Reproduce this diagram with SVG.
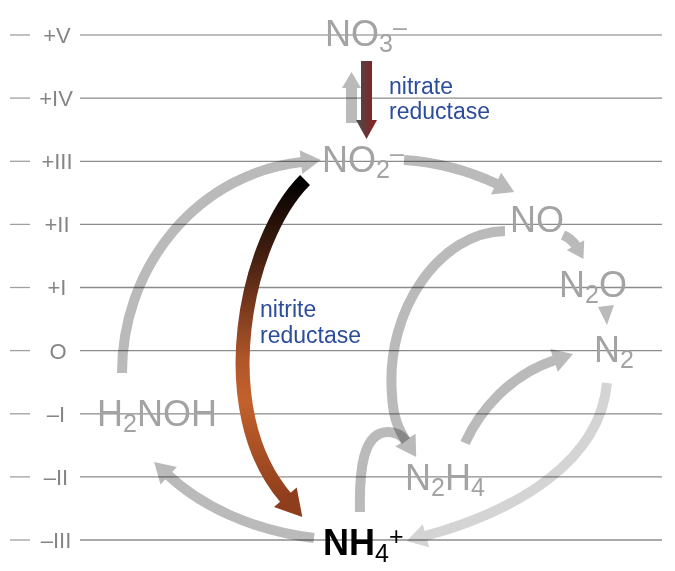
<svg xmlns="http://www.w3.org/2000/svg" width="675" height="571" viewBox="0 0 675 571">
<style>
.grid{stroke:#8c8c8c;stroke-width:1.3}
.tick{stroke:#a0a0a0;stroke-width:1.3}
.lvl{font-family:"Liberation Sans",Arial,sans-serif;font-size:22px;fill:#858585;text-anchor:middle}
.sp{font-family:"Liberation Sans",Arial,sans-serif;font-size:36px;fill:#a3a3a3}
.sub{font-size:25px}
.enz{font-family:"Liberation Sans",Arial,sans-serif;font-size:23px;fill:#2c4c9c}
.g{fill:none;stroke:#bababa;stroke-width:10;mix-blend-mode:multiply}
.gl{stroke:#d4d4d4}
</style>
<defs>
<linearGradient id="nit" gradientUnits="userSpaceOnUse" x1="0" y1="180" x2="0" y2="505">
<stop offset="0" stop-color="#000"/>
<stop offset="0.25" stop-color="#4a2212"/>
<stop offset="0.55" stop-color="#b0552a"/>
<stop offset="0.68" stop-color="#c2612c"/>
<stop offset="1" stop-color="#8c3c1b"/>
</linearGradient>
<linearGradient id="nat" x1="0" y1="0" x2="1" y2="0">
<stop offset="0" stop-color="#4a4a4a"/>
<stop offset="1" stop-color="#8e1d1d"/>
</linearGradient>
<marker id="ah" markerUnits="userSpaceOnUse" markerWidth="22" markerHeight="24" refX="1" refY="12" orient="auto" overflow="visible"><path d="M0,0 L20,12 L0,24 Z" fill="#bababa"/></marker>
<marker id="ahl" markerUnits="userSpaceOnUse" markerWidth="22" markerHeight="24" refX="1" refY="12" orient="auto" overflow="visible"><path d="M0,0 L20,12 L0,24 Z" fill="#d4d4d4"/></marker>
<marker id="ahs" markerUnits="userSpaceOnUse" markerWidth="18" markerHeight="20" refX="1" refY="10" orient="auto" overflow="visible"><path d="M0,0 L16,10 L0,20 Z" fill="#bababa"/></marker>
<marker id="ahb" markerUnits="userSpaceOnUse" markerWidth="28" markerHeight="30" refX="1" refY="15" orient="auto" overflow="visible"><path d="M0,0 L26,15 L0,30 Z" fill="#8e3e1c"/></marker>
</defs>
<rect width="675" height="571" fill="#fff"/>
<g id="axis">
<line class="tick" x1="10" y1="35" x2="30" y2="35"/><line class="grid" style="stroke:#a8a8a8" x1="80" y1="35" x2="662" y2="35"/>
<line class="tick" x1="10" y1="98.1" x2="30" y2="98.1"/><line class="grid" x1="80" y1="98.1" x2="662" y2="98.1"/>
<line class="tick" x1="10" y1="161.3" x2="30" y2="161.3"/><line class="grid" x1="80" y1="161.3" x2="662" y2="161.3"/>
<line class="tick" x1="10" y1="224.4" x2="30" y2="224.4"/><line class="grid" x1="80" y1="224.4" x2="662" y2="224.4"/>
<line class="tick" x1="10" y1="287.5" x2="30" y2="287.5"/><line class="grid" x1="80" y1="287.5" x2="662" y2="287.5"/>
<line class="tick" x1="10" y1="350.6" x2="30" y2="350.6"/><line class="grid" x1="80" y1="350.6" x2="662" y2="350.6"/>
<line class="tick" x1="10" y1="413.8" x2="30" y2="413.8"/><line class="grid" x1="80" y1="413.8" x2="662" y2="413.8"/>
<line class="tick" x1="10" y1="476.9" x2="30" y2="476.9"/><line class="grid" x1="80" y1="476.9" x2="662" y2="476.9"/>
<line class="tick" x1="10" y1="540" x2="30" y2="540"/><line class="grid" x1="80" y1="540" x2="662" y2="540"/>
<text class="lvl" x="57" y="43">+V</text>
<text class="lvl" x="56" y="106">+IV</text>
<text class="lvl" x="57" y="169.2">+III</text>
<text class="lvl" x="57" y="232.3">+II</text>
<text class="lvl" x="57" y="295.4">+I</text>
<text class="lvl" x="58" y="358.5">O</text>
<text class="lvl" x="56" y="421.7">–I</text>
<text class="lvl" x="56" y="484.8">–II</text>
<text class="lvl" x="56" y="547.9">–III</text>
</g>
<g id="connectors">
<path class="g" d="M404 160 C435 162 467 170 497 184" marker-end="url(#ah)"/>
<path class="g" d="M122 373 A200 212 0 0 1 302 162" marker-end="url(#ah)"/>
<path class="g" d="M563 235 Q572 239 576 246" marker-end="url(#ahs)"/>
<polygon points="598,307 614,305 607,325" fill="#bababa" style="mix-blend-mode:multiply"/>
<path class="g" d="M505 231 C440 232 385 310 392 395 C393 418 399 430 406 441" marker-end="url(#ah)"/>
<path class="g" d="M360 512 C359 470 363 432 388 432 C398 432 403 437 406 441"/>
<path class="g" d="M465 443 C480 410 510 375 555 360" marker-end="url(#ah)"/>
<path class="g gl" d="M607 383 C600 460 520 510 425 536" marker-end="url(#ahl)"/>
<path class="g" d="M314 538 C250 530 200 505 168 475" marker-end="url(#ah)"/>
<path d="M346 123 V88 H342 L351.5 72 L361 88 H357 V123 Z" fill="#bababa" style="mix-blend-mode:multiply"/>
<path d="M361 61 H372 V120 H377 L366.5 139 L356 120 H361 Z" fill="url(#nat)"/>
<path d="M305 180 C245 240 210 410 286 498" fill="none" stroke="url(#nit)" stroke-width="14" marker-end="url(#ahb)"/>
</g>
<g id="labels">
<text class="enz" x="389" y="94">nitrate</text>
<text class="enz" x="389" y="119">reductase</text>
<text class="enz" x="260" y="317">nitrite</text>
<text class="enz" x="260" y="343">reductase</text>
</g>
<g id="NO3"><text class="sp" x="325" y="46">NO<tspan class="sub" dy="6">3</tspan><tspan class="sub" dy="-16">–</tspan></text></g>
<g id="NO2"><text class="sp" x="322" y="172">NO<tspan class="sub" dy="6">2</tspan><tspan class="sub" dy="-16">–</tspan></text></g>
<g id="NO"><text class="sp" x="510" y="232">NO</text></g>
<g id="N2O"><text class="sp" x="559" y="297">N<tspan class="sub" dy="6">2</tspan><tspan dy="-6">O</tspan></text></g>
<g id="N2"><text class="sp" x="594" y="362">N<tspan class="sub" dy="6">2</tspan></text></g>
<g id="H2NOH"><text class="sp" x="97" y="426">H<tspan class="sub" dy="6">2</tspan><tspan dy="-6">NOH</tspan></text></g>
<g id="N2H4"><text class="sp" x="405" y="490">N<tspan class="sub" dy="6">2</tspan><tspan dy="-6">H</tspan><tspan class="sub" dy="6">4</tspan></text></g>
<g id="NH4"><text class="sp" x="323" y="555" style="fill:#000;font-weight:bold">NH<tspan class="sub" dy="7" style="font-weight:normal">4</tspan><tspan class="sub" dy="-17" style="font-weight:normal">+</tspan></text></g>
</svg>
